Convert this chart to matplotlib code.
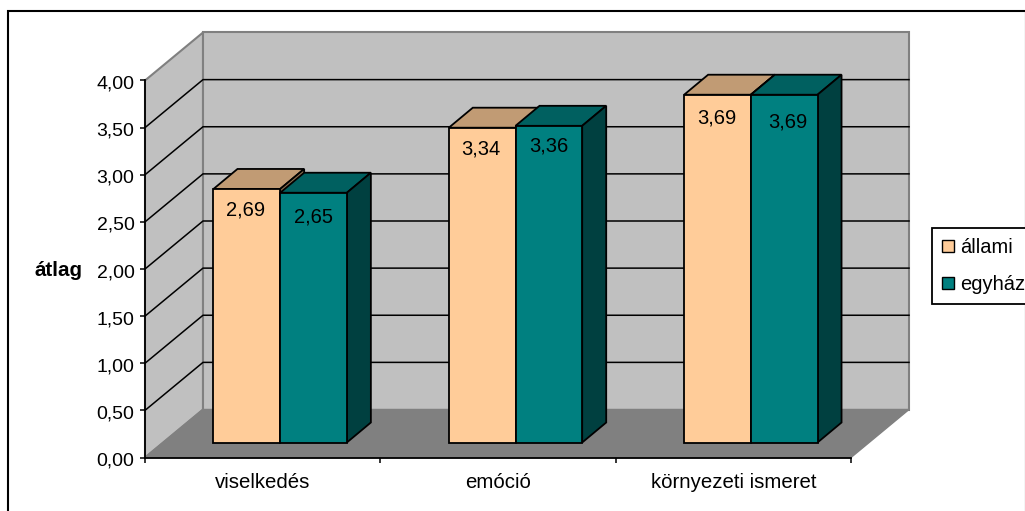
import matplotlib
matplotlib.use('Agg')
import matplotlib.pyplot as plt
from matplotlib.patches import Rectangle
from matplotlib.transforms import ScaledTranslation

plt.rcParams['font.family'] = ['Liberation Sans', 'DejaVu Sans']

categories = ['viselkedés', 'emóció', 'környezeti ismeret']
allami = [2.69, 3.34, 3.69]
egyhaz = [2.65, 3.36, 3.69]
value_labels_a = ['2,69', '3,34', '3,69']
value_labels_e = ['2,65', '3,36', '3,69']
yticks = [0, 0.5, 1, 1.5, 2, 2.5, 3, 3.5, 4]
ytick_labels = ['0,00', '0,50', '1,00', '1,50', '2,00', '2,50', '3,00', '3,50', '4,00']

# how far each value label sits from its bar top centre, in pixels
drop_a = [21, 21, 23]
drop_e = [24, 20, 27]
shift_a = [-1, -1, -1]
shift_e = [0, 0, 4]

W, H = 1025, 511
# plot box of the front plane, in pixels
LEFT, RIGHT, TOP, BOTTOM = 145, 851, 80.5, 457.5
px_x = 3 / (RIGHT - LEFT)
px_y = 4 / (BOTTOM - TOP)

# depth of the box and of the bars
wall_dx, wall_dy = 58 * px_x, 48 * px_y
bar_dx, bar_dy = 24 * px_x, 20 * px_y
floor_x, floor_y = 17.5 * px_x, 15 * px_y
bar_w = 66.7 * px_x

fig = plt.figure(figsize=(W / 100, H / 100), dpi=100)
fig.add_artist(Rectangle((8 / W, -0.01), (W - 7) / W, (H - 11) / H + 0.01, transform=fig.transFigure,
                         fc='white', ec='black', lw=1.5, zorder=-1))
ax = fig.add_axes([LEFT / W, 1 - BOTTOM / H, (RIGHT - LEFT) / W, (BOTTOM - TOP) / H])
ax.set_xlim(0, 3)
ax.set_ylim(0, 4)
ax.patch.set_visible(False)

# walls and floor
ax.fill([0, wall_dx, wall_dx, 0], [0, wall_dy, 4 + wall_dy, 4], fc='#C0C0C0', ec='#808080', lw=1.5, clip_on=False, zorder=1)
ax.fill([wall_dx, 3 + wall_dx, 3 + wall_dx, wall_dx], [wall_dy, wall_dy, 4 + wall_dy, 4 + wall_dy],
        fc='#C0C0C0', ec='#808080', lw=1.5, clip_on=False, zorder=1)
ax.fill([0, 3, 3 + wall_dx, wall_dx], [0, 0, wall_dy, wall_dy], fc='#808080', ec='#808080', lw=1, clip_on=False, zorder=1.5)

# gridlines
for t in yticks[1:-1]:
    ax.plot([0, wall_dx, 3 + wall_dx], [t, t + wall_dy, t + wall_dy], color='black', lw=1.1, clip_on=False, zorder=2)


def draw_bars(xs, values, front, top, side, order):
    bars = ax.bar(xs, values, bar_w, bottom=floor_y, align='edge', color=front, edgecolor='black', lw=1.3,
                  clip_on=False, zorder=order + 0.2)
    for x, v in zip(xs, values):
        y = v + floor_y
        ax.fill([x, x + bar_w, x + bar_w + bar_dx, x + bar_dx], [y, y, y + bar_dy, y + bar_dy],
                fc=top, ec='black', lw=1.3, clip_on=False, zorder=order)
        ax.fill([x + bar_w, x + bar_w + bar_dx, x + bar_w + bar_dx, x + bar_w],
                [floor_y, floor_y + bar_dy, y + bar_dy, y],
                fc=side, ec='black', lw=1.3, clip_on=False, zorder=order)
    return bars


centers = [0.5, 1.5, 2.5]
x_a = [c + floor_x - bar_w for c in centers]
x_e = [c + floor_x for c in centers]
bars_a = draw_bars(x_a, allami, '#FFCC99', '#C19B74', '#8F6F50', 3)
bars_e = draw_bars(x_e, egyhaz, '#008080', '#006060', '#004040', 4)

# value labels sit inside the bars, just under the top edge
for x, v, s, d, n in zip(x_a, allami, value_labels_a, drop_a, shift_a):
    ax.annotate(s, (x + bar_w / 2, v + floor_y), xytext=(n * 0.72, -d * 0.72), textcoords='offset points',
                ha='center', va='center', fontsize=14.5, zorder=6)
for x, v, s, d, n in zip(x_e, egyhaz, value_labels_e, drop_e, shift_e):
    ax.annotate(s, (x + bar_w / 2, v + floor_y), xytext=(n * 0.72, -d * 0.72), textcoords='offset points',
                ha='center', va='center', fontsize=14.5, zorder=6)

# axes
for name in ['top', 'right']:
    ax.spines[name].set_visible(False)
for name in ['left', 'bottom']:
    ax.spines[name].set_linewidth(1.3)
    ax.spines[name].set_zorder(2.5)
ax.set_yticks(yticks)
ax.set_yticklabels(ytick_labels, fontsize=14)
ax.set_xticks([0, 1, 2, 3])
ax.set_xticklabels([])
ax.set_xticks(centers, minor=True)
ax.set_xticklabels(categories, minor=True, fontsize=14.7)
ax.tick_params(axis='both', which='major', direction='out', length=3.5, width=1.1)
ax.tick_params(axis='y', pad=4)
ax.tick_params(axis='x', which='minor', length=0, pad=11.5)
# tick numbers sit a little under their ticks
for lab in ax.get_yticklabels():
    lab.set_transform(lab.get_transform() + ScaledTranslation(0, -1.5 / 100, fig.dpi_scale_trans))

fig.text(58.5 / W, 1 - 270 / H, 'átlag', fontsize=14.8, fontweight='bold', ha='center', va='center')

leg = fig.legend([bars_a[0], bars_e[0]], ['állami', 'egyház'], loc='upper left',
                 bbox_to_anchor=(932 / W, 1 - 228 / H), fontsize=14.5, frameon=True, fancybox=False,
                 edgecolor='black', framealpha=1, handlelength=0.55, handleheight=0.55, handletextpad=0.35,
                 labelspacing=0.86, borderpad=0.52, borderaxespad=0)
leg.get_frame().set_linewidth(1.3)
for h in leg.legend_handles:
    h.set_linewidth(1.0)

fig.savefig('out.png', dpi=100)
